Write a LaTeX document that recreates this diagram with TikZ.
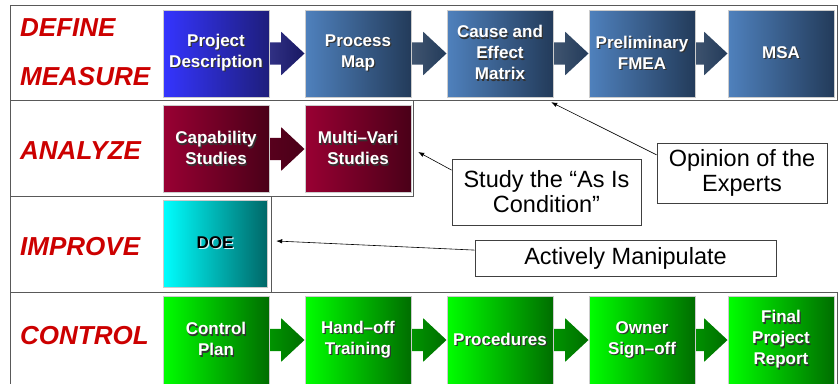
\documentclass[tikz,border=0pt]{standalone}
\usepackage{fontspec}
\setmainfont{Liberation Sans}
\usetikzlibrary{shapes.arrows,arrows.meta,calc,backgrounds}

\definecolor{phasered}{HTML}{CC0000}
\definecolor{bluel}{HTML}{3535FF}
\definecolor{bluer}{HTML}{1E1E7C}
\definecolor{steell}{HTML}{4F81BD}
\definecolor{steelr}{HTML}{233B5A}
\definecolor{crimsonl}{HTML}{990033}
\definecolor{crimsonr}{HTML}{4A0018}
\definecolor{cyanl}{HTML}{00FFFF}
\definecolor{cyanr}{HTML}{006868}
\definecolor{greenl}{HTML}{00FF00}
\definecolor{greenr}{HTML}{006E00}

% white text with a dark drop shadow
\newcommand{\shd}[2][black!80]{\makebox[0pt][l]{\hspace{1.2pt}\raisebox{-1.2pt}{\textcolor{#1}{#2}}}#2}

\tikzset{
  phase/.style={anchor=west, inner sep=0pt, text=phasered,
    font=\bfseries\itshape\fontsize{26}{30}\selectfont},
  blk/.style={rectangle, inner sep=0pt, minimum width=106pt, minimum height=87pt,
    text=white, align=center, draw=white!80!black, line width=0.4pt,
    font=\bfseries\fontsize{17}{21}\selectfont},
  blkarrow/.style={single arrow, anchor=tip, inner sep=0pt, text width=0pt, text height=11pt, text depth=11pt,
    minimum height=40pt, single arrow head extend=10.5pt, single arrow tip angle=86},
  frame/.style={draw=black!65, line width=0.8pt},
  callout/.style={rectangle, draw=black!75, line width=0.9pt, fill=white, align=center,
    inner sep=0pt, font=\fontsize{23.5}{25}\selectfont},
  pointer/.style={-{Latex[length=6pt,width=4.5pt]}, line width=0.6pt},
}

\begin{document}
\begin{tikzpicture}[x=1pt,y=-1pt]
\useasboundingbox (0,0) rectangle (838,383);

% frames of the phases
\draw[frame] (10,5) rectangle (837,100);
\draw[frame] (10,100) rectangle (413,196);
\draw[frame] (10,196) rectangle (271,292);
\draw[frame] (10,292) rectangle (837,392);

% phase names
\node[phase] (define) at (20,28) {DEFINE};
\node[phase] (measure) at (20,77) {MEASURE};
\node[phase] (analyze) at (20,151) {ANALYZE};
\node[phase] (improve) at (20,247) {IMPROVE};
\node[phase] (control) at (20,336) {CONTROL};

% define / measure
\node[blk, left color=bluel, right color=bluer] (pd) at (216,53.5) {\shd{Project}\\\shd{Description}};
\node[blk, left color=steell, right color=steelr] (pm) at (358,53.5) {\shd{Process}\\\shd{Map}};
\node[blk, left color=steell, right color=steelr] (ce) at (500,53.5) {\shd{Cause and}\\\shd{Effect}\\\shd{Matrix}};
\node[blk, left color=steell, right color=steelr] (fm) at (642,53.5) {\shd{Preliminary}\\\shd{FMEA}};
\node[blk, left color=steell, right color=steelr] (msa) at (781,53.5) {\shd{MSA}};

% analyze
\node[blk, left color=crimsonl, right color=crimsonr] (cs) at (216,149) {\shd{Capability}\\\shd{Studies}};
\node[blk, left color=crimsonl, right color=crimsonr] (mv) at (358,149) {\shd{Multi–Vari}\\\shd{Studies}};

% improve
\node[blk, minimum width=104pt, text=black, left color=cyanl, right color=cyanr] (doe) at (215,243.5) {\shd[white!85!cyan]{DOE}};

% control
\node[blk, minimum height=88pt, left color=greenl, right color=greenr] (cp) at (216,340) {\shd{Control}\\\shd{Plan}};
\node[blk, minimum height=88pt, left color=greenl, right color=greenr] (ho) at (358,340) {\shd{Hand–off}\\\shd{Training}};
\node[blk, minimum height=88pt, left color=greenl, right color=greenr] (proc) at (500,340) {\shd{Procedures}};
\node[blk, minimum height=88pt, left color=greenl, right color=greenr] (os) at (642,340) {\shd{Owner}\\\shd{Sign–off}};
\node[blk, minimum height=88pt, left color=greenl, right color=greenr] (fpr) at (781,340) {\shd{Final}\\\shd{Project}\\\shd{Report}};

% block arrows
\begin{scope}[on background layer]
\node[blkarrow, left color=bluer!90!white, right color=bluer!80!black] (a1) at (pm.west) {};
\node[blkarrow, left color=steelr!85!white, right color=steelr] (a2) at (ce.west) {};
\node[blkarrow, left color=steelr!85!white, right color=steelr] (a3) at (fm.west) {};
\node[blkarrow, left color=steelr!85!white, right color=steelr] (a4) at (msa.west) {};
\node[blkarrow, left color=crimsonr!80!crimsonl, right color=crimsonr] (a5) at (mv.west) {};
\node[blkarrow, left color=greenr!70!greenl, right color=greenr] (a6) at (ho.west) {};
\node[blkarrow, left color=greenr!70!greenl, right color=greenr] (a7) at (proc.west) {};
\node[blkarrow, left color=greenr!70!greenl, right color=greenr] (a8) at (os.west) {};
\node[blkarrow, left color=greenr!70!greenl, right color=greenr] (a9) at (fpr.west) {};
\end{scope}

% callouts
\node[callout, minimum width=189pt, minimum height=66pt] (study) at (546.5,192) {Study the “As Is\\Condition”};
\node[callout, minimum width=170pt, minimum height=60pt] (opinion) at (742,173) {Opinion of the\\Experts};
\node[callout, minimum width=301pt, minimum height=36pt] (actively) at (625.5,258) {Actively Manipulate};

\draw[pointer] (opinion.168) -- ($(ce.south east)+(-2,5)$);
\draw[pointer] (study.167) -- ($(mv.east)+(7,3)$);
\draw[pointer] (actively.177) -- ($(doe.east)+(9,-2.5)$);
\end{tikzpicture}
\end{document}
